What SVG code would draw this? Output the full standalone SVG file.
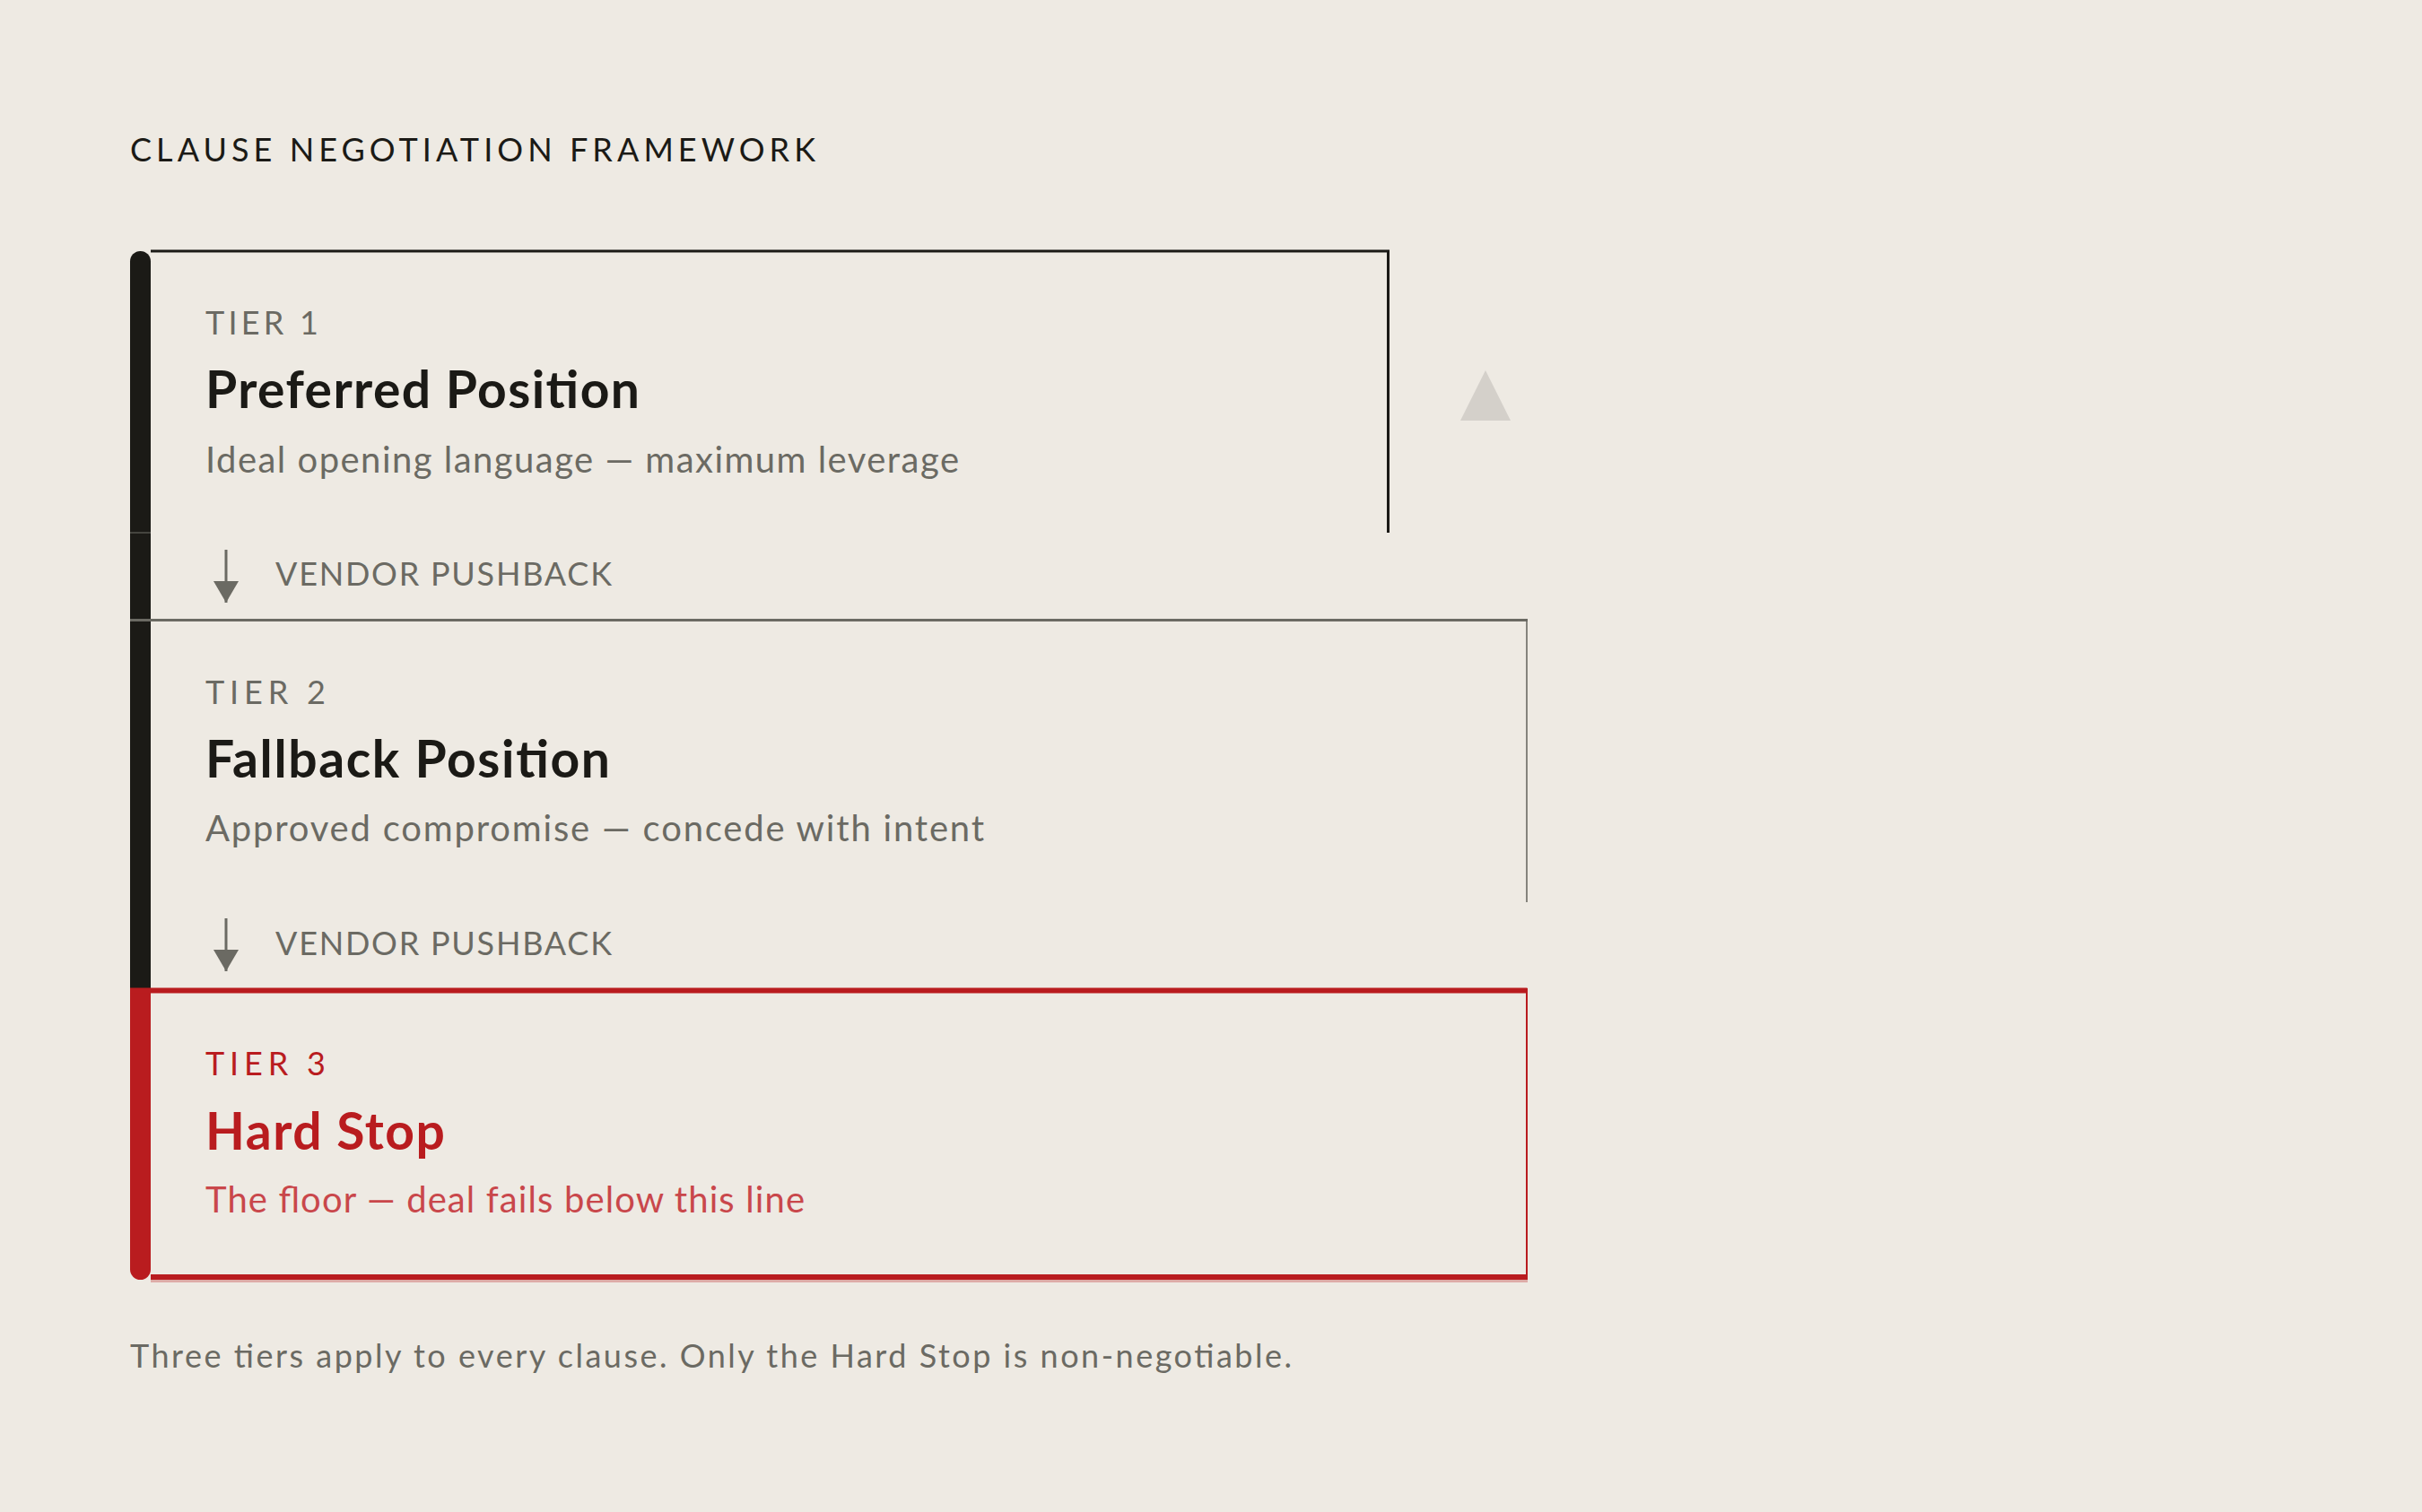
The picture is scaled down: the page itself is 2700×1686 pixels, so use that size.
<svg xmlns="http://www.w3.org/2000/svg" width="2700" height="1686" viewBox="0 0 2700 1686">
<style>
  text { font-family: "Lato", "Inter", "Liberation Sans", sans-serif; }
  .kicker { font-size: 36px; fill: #6b6a63; }
  .title { font-size: 57px; font-weight: 700; fill: #1b1a16; }
  .desc { font-size: 40px; fill: #6b6a63; }
  .push { font-size: 36px; fill: #6b6a63; }
  .red { fill: #b91c1f; }
  .redsoft { fill: #c9474b; }
  .pushline { stroke: #6b6a63; stroke-width: 3; fill: none; }
</style>
<defs>
  <marker id="ah" markerWidth="24" markerHeight="28" refX="24" refY="14" orient="auto" markerUnits="userSpaceOnUse" viewBox="0 0 24 28">
    <path d="M0,0 L24,14 L0,28 Z" fill="#6b6a63"/>
  </marker>
</defs>
<rect x="0" y="0" width="2700" height="1686" fill="#eeeae3"/>

<g id="heading">
  <text x="145" y="180" font-size="36" fill="#1b1a16" textLength="764">CLAUSE NEGOTIATION FRAMEWORK</text>
</g>

<g id="spine">
  <path d="M145,291.5 A11.5,11.5 0 0 1 168,291.5 V1102 H145 Z" fill="#1b1a16"/>
  <path d="M145,1102 H168 V1415.5 A11.5,11.5 0 0 1 145,1415.5 Z" fill="#b91c1f"/>
  <line x1="145" y1="594" x2="168" y2="594" stroke="#55544e" stroke-width="1.5"/>
</g>

<g id="tier1">
  <path d="M168,280 H1547.5 V594" fill="none" stroke="#1b1a16" stroke-width="3"/>
  <text class="kicker" x="229" y="373" textLength="126">TIER 1</text>
  <text class="title" x="229" y="455" textLength="484">Preferred Position</text>
  <text class="desc" x="229" y="527" textLength="840">Ideal opening language — maximum leverage</text>
</g>

<g id="tier2">
  <line x1="145" y1="691.5" x2="1703" y2="691.5" stroke="#6b6a63" stroke-width="3"/>
  <line x1="1702" y1="691" x2="1702" y2="1006" stroke="#6b6a63" stroke-width="1.6"/>
  <text class="kicker" x="229" y="785" textLength="134">TIER 2</text>
  <text class="title" x="229" y="867" textLength="451">Fallback Position</text>
  <text class="desc" x="229" y="938" textLength="868">Approved compromise — concede with intent</text>
</g>

<g id="tier3">
  <line x1="145" y1="1104.5" x2="1702.5" y2="1104.5" stroke="#b91c1f" stroke-width="6"/>
  <line x1="1702" y1="1102" x2="1702" y2="1427" stroke="#b91c1f" stroke-width="2"/>
  <line x1="168" y1="1424" x2="1703" y2="1424" stroke="#b91c1f" stroke-width="6"/>
  <line x1="168" y1="1428.5" x2="1703" y2="1428.5" stroke="#b91c1f" stroke-opacity="0.3" stroke-width="3"/>
  <text class="kicker red" x="229" y="1199" textLength="134">TIER 3</text>
  <text class="title red" x="229" y="1282" textLength="267">Hard Stop</text>
  <text class="desc redsoft" x="229" y="1352" textLength="668">The floor — deal fails below this line</text>
</g>

<g id="indicator">
  <polygon points="1656,413 1684,469 1628,469" fill="#d4d0ca"/>
</g>

<g id="connectors">
  <g id="push1">
    <line class="pushline" x1="252" y1="613" x2="252" y2="672" marker-end="url(#ah)"/>
    <text class="push" x="307" y="653" textLength="375">VENDOR PUSHBACK</text>
  </g>
  <g id="push2">
    <line class="pushline" x1="252" y1="1024" x2="252" y2="1083" marker-end="url(#ah)"/>
    <text class="push" x="307" y="1065" textLength="375">VENDOR PUSHBACK</text>
  </g>
</g>

<g id="footer">
  <text x="145" y="1525" font-size="36" fill="#6b6a63" textLength="1295">Three tiers apply to every clause. Only the Hard Stop is non-negotiable.</text>
</g>
</svg>
